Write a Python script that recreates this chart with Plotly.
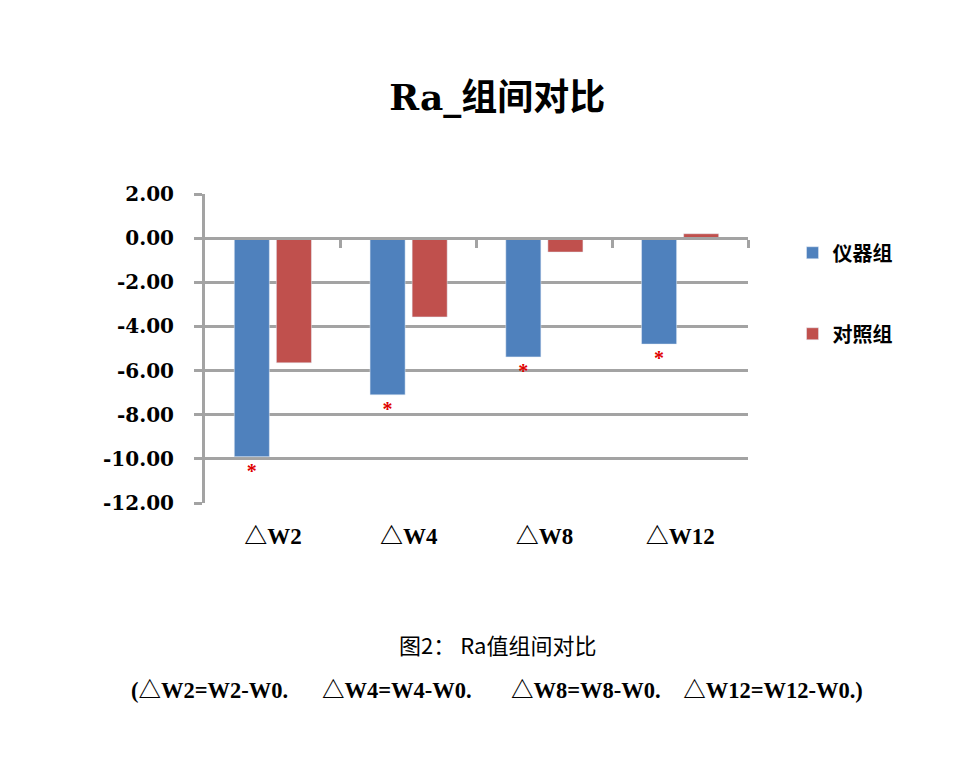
import plotly.graph_objects as go

categories = ["△W2", "△W4", "△W8", "△W12"]
instrument = [-9.9, -7.1, -5.38, -4.8]
control = [-5.65, -3.57, -0.63, 0.2]
sig_marks = ["*", "*", "*", "*"]
y_ticks = [2, 0, -2, -4, -6, -8, -10, -12]
y_ticktext = ["2.00", "0.00", "-2.00", "-4.00", "-6.00", "-8.00", "-10.00", "-12.00"]
series_names = ["仪器组", "对照组"]

BLUE = "#4F81BD"
RED = "#C0504D"
GRID = "#A3A3A3"
SERIF = "Liberation Serif, Noto Sans CJK SC"
DSERIF = "DejaVu Serif, Liberation Serif, Noto Sans CJK SC"
CJK = "Noto Sans CJK SC, Liberation Serif"

fig = go.Figure()
fig.add_trace(go.Bar(
    x=categories, y=instrument, name=series_names[0], marker_color=BLUE,
    text=sig_marks, textposition="outside",
    textfont=dict(color="#E00000", size=20, family="Liberation Serif", weight="bold"),
    cliponaxis=False, constraintext="none", legendgroup="a", hoverinfo="skip",
))
fig.add_trace(go.Bar(
    x=categories, y=control, name=series_names[1], marker_color=RED,
    legendgroup="b", hoverinfo="skip",
))
# invisible trace to host the zero-level category axis
fig.add_trace(go.Scatter(x=[0, 3], y=[0, 0], xaxis="x2", mode="lines",
                         line=dict(width=0), showlegend=False, hoverinfo="skip"))

fig.update_layout(
    width=960, height=758,
    margin=dict(l=205, r=212, t=194, b=255),
    paper_bgcolor="white", plot_bgcolor="white",
    barmode="group", bargap=0.38, bargroupgap=0.167,
    title=dict(text="<b>Ra_组间对比</b>", x=0.518, xanchor="center", y=0.872, yanchor="middle",
               yref="container", font=dict(family=DSERIF, size=36, color="black")),
    xaxis=dict(type="category", showgrid=False, showline=False, ticks="", zeroline=False,
               tickfont=dict(family=SERIF, size=23, color="black", weight="bold"),
               ticklabelstandoff=17, range=[-0.5, 3.5]),
    xaxis2=dict(overlaying="x", anchor="free", position=12 / 14, range=[-0.5, 3.5],
                tickvals=[0.5, 1.5, 2.5, 3.5], showticklabels=False, ticks="outside",
                ticklen=8, tickwidth=3, tickcolor=GRID, showline=True, linecolor=GRID,
                linewidth=3, showgrid=False, zeroline=False),
    yaxis=dict(range=[-12, 2], tickvals=y_ticks, ticktext=y_ticktext,
               showgrid=True, gridcolor=GRID, gridwidth=3, zeroline=False,
               showline=True, linecolor=GRID, linewidth=3,
               ticks="outside", ticklen=8, tickwidth=3, tickcolor=GRID,
               ticklabelstandoff=16,
               tickfont=dict(family=DSERIF, size=20, color="black", weight="bold")),
    legend=dict(x=1.082, xanchor="left", y=0.873, yanchor="top",
                font=dict(family=CJK, size=20, color="black", weight="bold"),
                tracegroupgap=52, traceorder="grouped", bgcolor="rgba(0,0,0,0)",
                itemwidth=30),
    showlegend=True,
)

fig.add_annotation(text="图2： Ra值组间对比", xref="paper", yref="paper",
                   x=0.538, y=-0.455, xanchor="center", yanchor="middle", showarrow=False,
                   font=dict(family=CJK, size=22, color="black"))
nb = "\u00a0"
fig.add_annotation(text="(△W2=W2-W0." + nb * 6 + "△W4=W4-W0." + nb * 7 + "△W8=W8-W0." + nb * 4 + "△W12=W12-W0.)",
                   xref="paper", yref="paper",
                   x=0.537, y=-0.607, xanchor="center", yanchor="middle", showarrow=False,
                   font=dict(family=SERIF, size=22.5, color="black", weight="bold"))

fig.write_html("out.html")
